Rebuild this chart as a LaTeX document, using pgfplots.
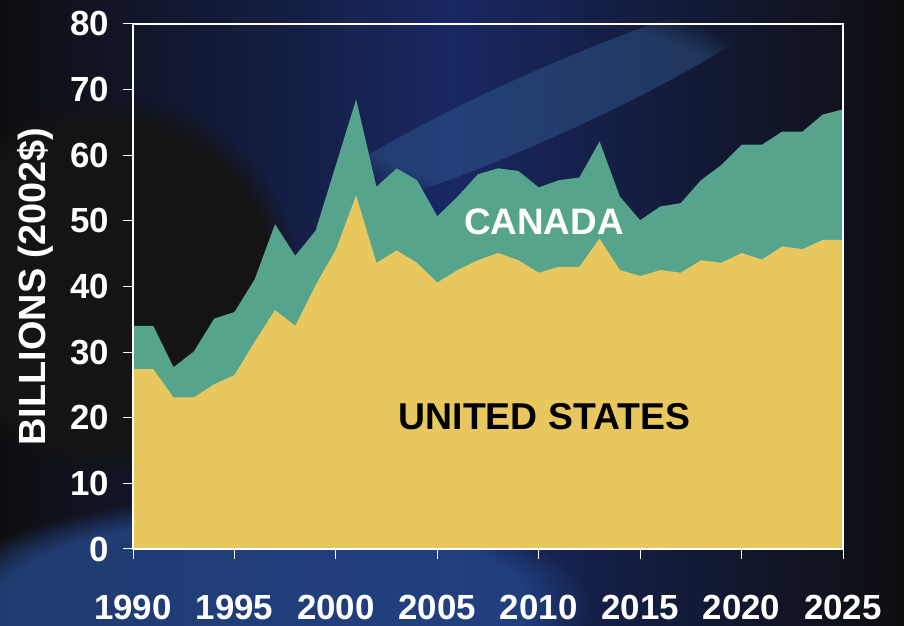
\documentclass[border=0pt]{standalone}
\usepackage{fontspec}
\setmainfont{Liberation Sans}
\usepackage{pgfplots}
\pgfplotsset{compat=1.18}
\usetikzlibrary{fadings}
\definecolor{usyellow}{RGB}{232,200,94}
\definecolor{cagreen}{RGB}{86,164,140}
\definecolor{bgnavy}{RGB}{24,40,98}
\definecolor{bgdark}{RGB}{14,14,16}
\definecolor{streak}{RGB}{60,110,165}
\definecolor{glow}{RGB}{36,70,135}
\begin{document}
\begin{tikzpicture}
\useasboundingbox (0,0) rectangle (904bp,626bp);
\fill[bgdark] (0,0) rectangle (904bp,626bp);
\shade[left color=bgdark, right color=bgdark, middle color=bgnavy] (0,0) rectangle (904bp,626bp);
\fill[glow, opacity=0.8, path fading=circle with fuzzy edge 20 percent] (260bp,20bp) ellipse (330bp and 110bp);
\fill[streak, opacity=0.35, path fading=circle with fuzzy edge 20 percent, rotate around={24:(540bp,520bp)}] (540bp,520bp) ellipse (260bp and 34bp);
\fill[black!92, path fading=circle with fuzzy edge 15 percent] (110bp,340bp) circle (190bp);
\begin{axis}[
  at={(133bp,77bp)}, anchor=south west,
  width=710bp, height=525bp, scale only axis,
  xmin=1990, xmax=2025, ymin=0, ymax=80,
  xtick={1990,1995,...,2025}, ytick={0,10,...,80},
  axis line style={white, line width=1.5bp},
  tick style={white, line width=1bp},
  major tick length=10bp,
  tick align=outside,
  tick pos=left,
  /pgf/number format/assume math mode=true,
  /pgf/number format/1000 sep={},
  tick label style={font=\fontsize{35}{36}\selectfont\bfseries, text=white, inner sep=0pt},
  xticklabel style={anchor=north, yshift=-36bp},
  yticklabel style={anchor=east, xshift=-14bp},
  ylabel={BILLIONS (2002\$)},
  every axis y label/.style={at={(axis description cs:-0.138,0.5)}, rotate=90, anchor=center,
     font=\fontsize{38}{39}\selectfont\bfseries, text=white, inner sep=0pt},
  axis on top,
]
% Canada plotted as the top of the stack (US + Canada)
\addplot[fill=cagreen, draw=none] coordinates {
(1990,34.0) (1991,34.0) (1992,27.7) (1993,30.1) (1994,35.1) (1995,36.1)
(1996,41.1) (1997,49.5) (1998,44.7) (1999,48.5) (2000,58.5) (2001,68.5)
(2002,55.2) (2003,58.0) (2004,56.2) (2005,50.7) (2006,53.7) (2007,57.1)
(2008,58.0) (2009,57.6) (2010,55.1) (2011,56.2) (2012,56.6) (2013,62.1)
(2014,53.7) (2015,50.1) (2016,52.2) (2017,52.7) (2018,56.2) (2019,58.5)
(2020,61.6) (2021,61.6) (2022,63.6) (2023,63.6) (2024,66.2) (2025,67.0)
} \closedcycle;
\addplot[fill=usyellow, draw=none] coordinates {
(1990,27.4) (1991,27.4) (1992,23.1) (1993,23.1) (1994,25.1) (1995,26.5)
(1996,31.6) (1997,36.4) (1998,34.0) (1999,40.2) (2000,45.6) (2001,53.9)
(2002,43.6) (2003,45.5) (2004,43.6) (2005,40.6) (2006,42.5) (2007,44.0)
(2008,45.1) (2009,44.0) (2010,42.1) (2011,43.0) (2012,43.0) (2013,47.3)
(2014,42.5) (2015,41.6) (2016,42.5) (2017,42.1) (2018,44.0) (2019,43.6)
(2020,45.1) (2021,44.1) (2022,46.1) (2023,45.7) (2024,47.1) (2025,47.1)
} \closedcycle;
\node[font=\fontsize{37}{38}\selectfont\bfseries, text=white] at (axis cs:2010.26,49.9) {CANADA};
\node[font=\fontsize{37.5}{38}\selectfont\bfseries, text=black] at (axis cs:2010.28,20.2) {UNITED STATES};
\end{axis}
\end{tikzpicture}
\end{document}
